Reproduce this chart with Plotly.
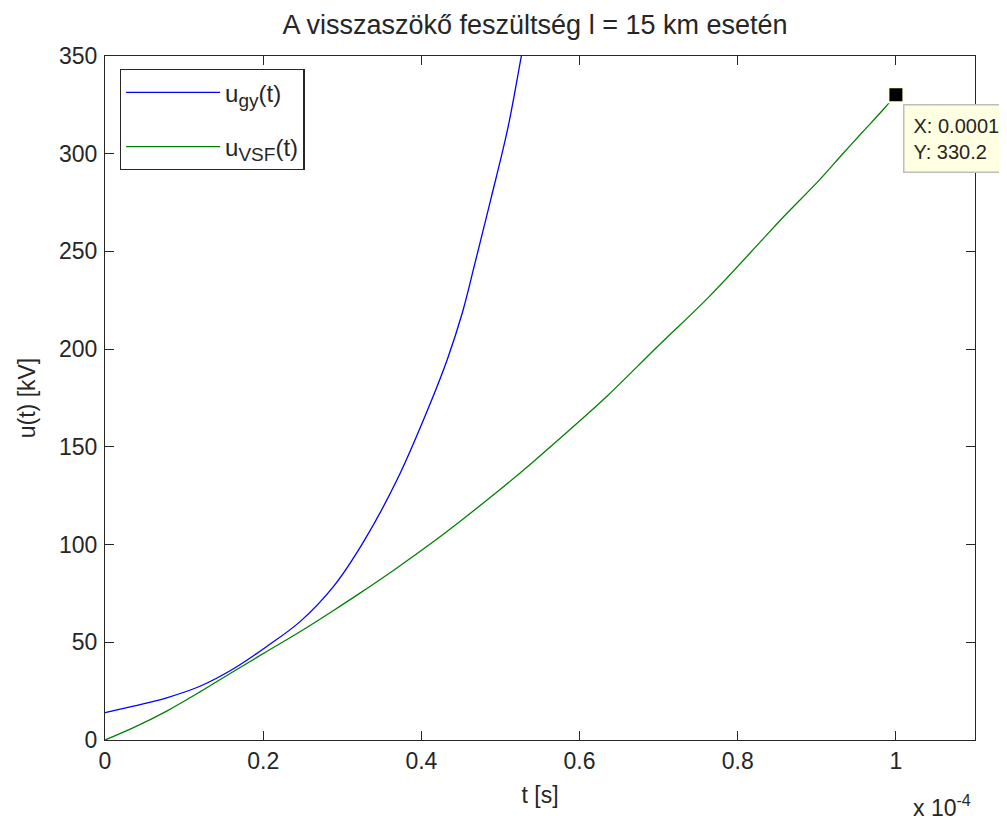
import plotly.graph_objects as go

# time values in units of 1e-4 s, voltage in kV
t_gy = [0, 0.036, 0.078, 0.12, 0.163, 0.205, 0.247, 0.289, 0.327, 0.370,
        0.412, 0.433, 0.452, 0.467, 0.488, 0.509, 0.526, 0.532]
u_gy = [14, 17.3, 21.6, 27.5, 36.6, 48, 60.7, 78.6, 101.5, 133.8,
        173, 195, 218.9, 242.7, 277, 312.4, 349, 362]

t_vsf = [0, 0.036, 0.078, 0.12, 0.163, 0.205, 0.247, 0.289, 0.32, 0.370,
         0.412, 0.454, 0.496, 0.539, 0.594, 0.636, 0.699, 0.763, 0.830,
         0.855, 0.904, 0.932, 0.957, 0.986, 1.0]
u_vsf = [0, 6.3, 14.8, 24.6, 35.2, 45.4, 55.5, 66.3, 74.5, 88.3,
         100.5, 113.5, 127, 141.5, 161, 176.4, 201.5, 226.5, 255.5,
         266.5, 286.9, 299.6, 310.7, 323.5, 330.2]

tip_t = 1.0
tip_u = 330.2

x_ticks = [0, 0.2, 0.4, 0.6, 0.8, 1.0]
x_ticktext = ["0", "0.2", "0.4", "0.6", "0.8", "1"]
y_ticks = [0, 50, 100, 150, 200, 250, 300, 350]

SCALE = 1e-4
FONT = "Liberation Sans, Arial, Helvetica, sans-serif"
TXT = "#262626"
SUB = "<sub><span style='font-size:19px'>{}</span></sub>"

fig = go.Figure()
fig.add_trace(go.Scatter(
    x=[v * SCALE for v in t_gy], y=u_gy, mode="lines", legendgroup="a",
    name="u" + SUB.format("gy") + "(t)",
    line=dict(color="#0000FF", width=1.3, shape="spline", smoothing=1.0)))
fig.add_trace(go.Scatter(
    x=[v * SCALE for v in t_vsf], y=u_vsf, mode="lines", legendgroup="b",
    name="u" + SUB.format("VSF") + "(t)",
    line=dict(color="#008000", width=1.3, shape="spline", smoothing=1.0)))
fig.add_trace(go.Scatter(
    x=[tip_t * SCALE], y=[tip_u], mode="markers", showlegend=False,
    marker=dict(symbol="square", size=15, color="black",
                line=dict(color="#FFFFE1", width=2)),
    cliponaxis=False, hoverinfo="skip"))

fig.add_annotation(
    x=tip_t * SCALE, y=tip_u, xref="x", yref="y",
    text="X: 0.0001<br>Y: 330.2", showarrow=False,
    xanchor="left", yanchor="top", xshift=7, yshift=-9, align="left",
    bgcolor="#FFFFE1", bordercolor="#BDBDBD", borderwidth=1.5, borderpad=9,
    font=dict(family=FONT, size=20, color=TXT))

fig.add_annotation(
    x=(973 - 105) / 870, y=-0.097, xref="paper", yref="paper",
    text="x 10<sup>-4</sup>", showarrow=False,
    xanchor="right", yanchor="middle",
    font=dict(family=FONT, size=23, color=TXT))

axis_common = dict(
    ticks="inside", ticklen=9, tickwidth=1, tickcolor=TXT,
    showline=True, linecolor=TXT, linewidth=1.3, mirror="ticks",
    showgrid=False, zeroline=False, automargin=False,
    tickfont=dict(family=FONT, size=23, color=TXT),
)

# the page body adds an 8px offset, so the figure is 8px smaller here
fig.update_layout(
    width=999, height=813,
    margin=dict(l=97, r=32, t=48, b=81),
    paper_bgcolor="white", plot_bgcolor="white",
    title=dict(text="A visszaszökő feszültség l = 15 km esetén",
               x=527 / 999, xanchor="center", y=1 - 17 / 813, yanchor="middle",
               automargin=False,
               font=dict(family=FONT, size=27, color=TXT)),
    xaxis=dict(range=[0, 1.1 * SCALE],
               tickvals=[v * SCALE for v in x_ticks], ticktext=x_ticktext,
               title=dict(text="t [s]", standoff=14,
                          font=dict(family=FONT, size=23, color=TXT)),
               ticklabelstandoff=0, **axis_common),
    yaxis=dict(range=[0, 350], tickvals=y_ticks,
               title=dict(text="u(t) [kV]", standoff=16,
                          font=dict(family=FONT, size=23, color=TXT)),
               ticklabelstandoff=2, **axis_common),
    legend=dict(x=0.017, y=0.981, xanchor="left", yanchor="top",
                bgcolor="white", bordercolor=TXT, borderwidth=1.3,
                font=dict(family=FONT, size=24, color=TXT),
                itemwidth=94, tracegroupgap=20),
    showlegend=True,
)

fig.write_html("out.html")
